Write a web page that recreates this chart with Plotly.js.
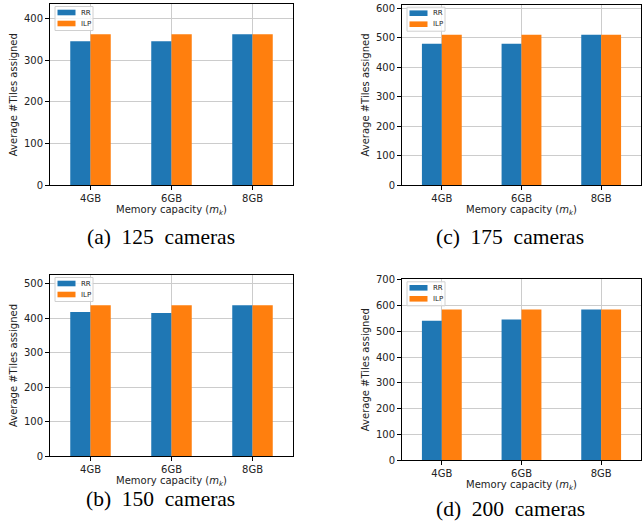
<!DOCTYPE html>
<html><head><meta charset="utf-8">
<script src="https://cdn.plot.ly/plotly-3.0.1.min.js"></script>
<style>body{margin:0;padding:0;background:#fff}#chart{width:642px;height:525px}</style>
</head><body><div id="chart"></div>
<script>
const categories = ['4GB', '6GB', '8GB'];
const seriesNames = ['RR', 'ILP'];
const rr125 = [345, 345, 362];
const ilp125 = [362, 362, 362];
const rr150 = [418, 415, 438];
const ilp150 = [438, 438, 438];
const rr175 = [480, 480, 510];
const ilp175 = [510, 510, 510];
const rr200 = [541, 546, 585];
const ilp200 = [585, 585, 585];
const captions = ['(a)\u2002125\u2002cameras', '(b)\u2002150\u2002cameras', '(c)\u2002175\u2002cameras', '(d)\u2002200\u2002cameras'];

const colors = ['#1f77b4', '#ff7f0e'];
const W = 642, H = 525;
// pixel boxes of each panel: [left, right, top, bottom]
const boxes = [[50, 293, 4, 185.3], [50, 293, 275, 456], [402, 641, 4.7, 185.3], [402, 641, 279.3, 460]];
const panels = [
  {s: [rr125, ilp125], xa: 'x', ya: 'y', ymax: Math.max(...ilp125) * 1.2},
  {s: [rr150, ilp150], xa: 'x2', ya: 'y2', ymax: Math.max(...ilp150) * 1.2},
  {s: [rr175, ilp175], xa: 'x3', ya: 'y3', ymax: Math.max(...ilp175) * 1.2},
  {s: [rr200, ilp200], xa: 'x4', ya: 'y4', ymax: Math.max(...ilp200) * 1.2}
];
const traces = [];
panels.forEach(p => {
  p.s.forEach((vals, j) => {
    traces.push({type: 'bar', x: categories, y: vals, name: seriesNames[j], marker: {color: colors[j], line: {width: 0}},
      xaxis: p.xa, yaxis: p.ya, offsetgroup: String(j), showlegend: false});
  });
});

const font = 'DejaVu Sans, sans-serif';
function xax(domain, anchor) {
  return {domain: domain, anchor: anchor, range: [-0.5, 2.5], showline: true, mirror: true, linecolor: '#000', linewidth: 1,
    ticks: 'outside', ticklen: 4, tickcolor: '#000', showgrid: true, gridcolor: '#cccccc', gridwidth: 1,
    tickfont: {family: font, size: 10, color: '#222'},
    title: {text: 'Memory capacity (<i>m<sub>k</sub></i>)', font: {family: font, size: 10, color: '#222'}, standoff: 2}};
}
function yax(domain, anchor, ymax) {
  return {domain: domain, anchor: anchor, range: [0, ymax], dtick: 100, showline: true, mirror: true, linecolor: '#000', linewidth: 1,
    ticks: 'outside', ticklen: 4, tickcolor: '#000', showgrid: true, gridcolor: '#cccccc', gridwidth: 1, zeroline: false,
    tickfont: {family: font, size: 10, color: '#222'},
    title: {text: 'Average #Tiles assigned', font: {family: font, size: 10, color: '#222'}, standoff: 4}};
}
const layout = {
  width: W, height: H, margin: {l: 0, r: 0, t: 0, b: 0}, paper_bgcolor: '#fff', plot_bgcolor: '#fff',
  barmode: 'group', bargap: 0.5, bargroupgap: 0, showlegend: false,
  annotations: [], shapes: []
};
const axKeys = [['xaxis', 'yaxis'], ['xaxis2', 'yaxis2'], ['xaxis3', 'yaxis3'], ['xaxis4', 'yaxis4']];
boxes.forEach((b, i) => {
  const [L, R, T, B] = b;
  layout[axKeys[i][0]] = xax([L / W, R / W], panels[i].ya);
  layout[axKeys[i][1]] = yax([1 - B / H, 1 - T / H], panels[i].xa, panels[i].ymax);
  // legend (drawn in paper space)
  const px = x => x / W, py = y => 1 - y / H;
  layout.shapes.push({type: 'rect', xref: 'paper', yref: 'paper', x0: px(L + 5), x1: px(L + 43), y0: py(T + 2.5), y1: py(T + 26.5),
    line: {color: '#d0d0d0', width: 1}, fillcolor: 'rgba(255,255,255,0.8)', layer: 'above'});
  seriesNames.forEach((nm, j) => {
    const yc = T + 8.5 + j * 11;
    layout.shapes.push({type: 'rect', xref: 'paper', yref: 'paper', x0: px(L + 7.5), x1: px(L + 25.5), y0: py(yc - 2.8), y1: py(yc + 2.8),
      line: {width: 0}, fillcolor: colors[j], layer: 'above'});
    layout.annotations.push({text: nm, x: px(L + 29), y: py(yc), xref: 'paper', yref: 'paper', xanchor: 'left', yanchor: 'middle',
      showarrow: false, font: {family: font, size: 7, color: '#222'}});
  });
});
const capPos = [[160.5, 237.5], [160.5, 499], [510.5, 237.5], [510.5, 509]];
captions.forEach((c, i) => {
  layout.annotations.push({text: c, x: capPos[i][0] / W, y: 1 - capPos[i][1] / H, xref: 'paper', yref: 'paper',
    xanchor: 'center', yanchor: 'middle', showarrow: false, font: {family: 'Liberation Serif, serif', size: 21.5, color: '#000'}});
});
Plotly.newPlot('chart', traces, layout, {staticPlot: true});
</script></body></html>
